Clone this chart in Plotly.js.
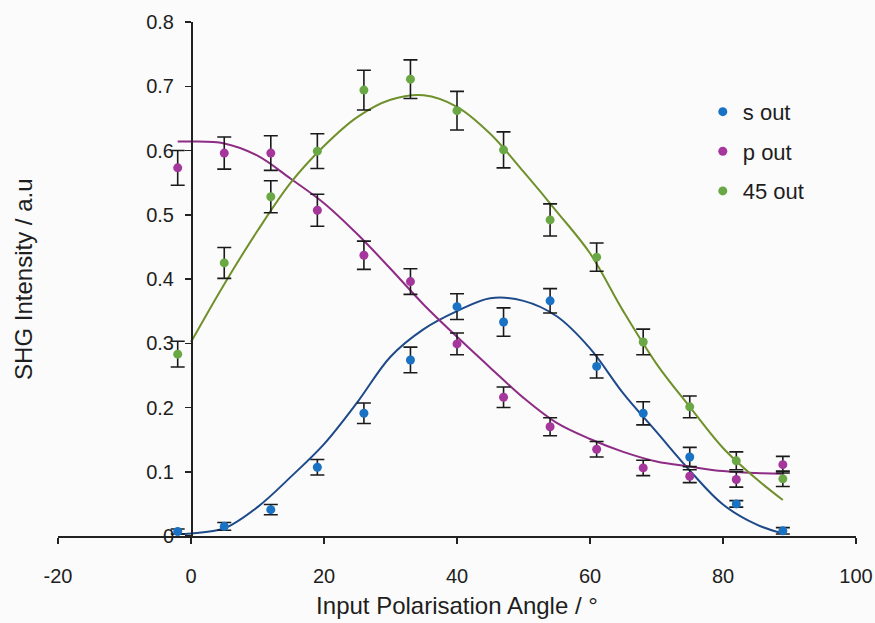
<!DOCTYPE html>
<html>
<head>
<meta charset="utf-8">
<script src="https://cdn.plot.ly/plotly-3.0.1.min.js"></script>
<style>html,body{margin:0;padding:0;background:#fbfbfb;}#chart{width:875px;height:623px;}</style>
</head>
<body>
<div id="chart"></div>
<script>
// Measured angles (degrees)
const angles = [-2, 5, 12, 19, 26, 33, 40, 47, 54, 61, 68, 75, 82, 89];

// Measured SHG intensities
const sOut  = [0.007, 0.015, 0.041, 0.107, 0.191, 0.274, 0.357, 0.333, 0.366, 0.264, 0.191, 0.123, 0.050, 0.008];
const pOut  = [0.573, 0.596, 0.596, 0.507, 0.437, 0.396, 0.299, 0.216, 0.170, 0.135, 0.106, 0.093, 0.088, 0.111];
const gOut  = [0.283, 0.425, 0.528, 0.599, 0.694, 0.711, 0.662, 0.601, 0.492, 0.434, 0.302, 0.201, 0.117, 0.089];

// Error bar half-heights
const sErr = [0.004, 0.006, 0.008, 0.012, 0.016, 0.020, 0.020, 0.022, 0.019, 0.018, 0.018, 0.015, 0.005, 0.005];
const pErr = [0.027, 0.025, 0.027, 0.025, 0.022, 0.020, 0.017, 0.016, 0.014, 0.012, 0.012, 0.010, 0.012, 0.013];
const gErr = [0.020, 0.024, 0.025, 0.027, 0.031, 0.030, 0.030, 0.028, 0.025, 0.022, 0.020, 0.017, 0.014, 0.012];

// Fitted curves
const fitAnglesS = [-2, 0, 5, 10, 15, 20, 25, 30, 35, 40, 45, 50, 55, 60, 65, 70, 75, 80, 85, 89];
const fitS       = [0.003, 0.004, 0.012, 0.045, 0.092, 0.143, 0.208, 0.279, 0.322, 0.350, 0.370, 0.366, 0.342, 0.292, 0.222, 0.162, 0.102, 0.049, 0.018, 0.004];
const fitAnglesP = [-2, 0, 5, 10, 15, 20, 25, 30, 35, 40, 45, 50, 55, 60, 65, 70, 75, 80, 85, 89];
const fitP       = [0.614, 0.614, 0.611, 0.592, 0.556, 0.518, 0.470, 0.416, 0.360, 0.310, 0.262, 0.215, 0.176, 0.151, 0.131, 0.116, 0.108, 0.101, 0.098, 0.097];
const fitAnglesG = [0, 5, 10, 15, 20, 25, 30, 35, 40, 45, 50, 55, 60, 65, 70, 75, 80, 85, 89];
const fitG       = [0.302, 0.392, 0.475, 0.550, 0.607, 0.652, 0.679, 0.686, 0.668, 0.626, 0.567, 0.505, 0.440, 0.350, 0.268, 0.201, 0.137, 0.089, 0.056];

const seriesNames = ['s out', 'p out', '45 out'];
const xTickVals = [-20, 0, 20, 40, 60, 80, 100];
const xTickText = ['-20', '0', '20', '40', '60', '80', '100'];
const yTickVals = [0, 0.1, 0.2, 0.3, 0.4, 0.5, 0.6, 0.7, 0.8];
const yTickText = ['0', '0.1', '0.2', '0.3', '0.4', '0.5', '0.6', '0.7', '0.8'];

const colS = '#1a72c4', colP = '#a5369c', colG = '#6aa845';
const lineS = '#1e4a8a', lineP = '#8e2b84', lineG = '#6f902a';

function fitTrace(x, y, c, g) {
  return {x: x, y: y, type: 'scatter', mode: 'lines', line: {color: c, width: 2, shape: 'spline', smoothing: 1},
          showlegend: false, legendgroup: g, hoverinfo: 'skip'};
}
function ptTrace(x, y, e, c, name, g) {
  return {x: x, y: y, type: 'scatter', mode: 'markers', name: name, legendgroup: g,
          marker: {color: c, size: 9},
          error_y: {type: 'data', array: e, visible: true, color: '#1a1a1a', thickness: 1.6, width: 7}};
}

const data = [
  fitTrace(fitAnglesS, fitS, lineS, 's'),
  fitTrace(fitAnglesP, fitP, lineP, 'p'),
  fitTrace(fitAnglesG, fitG, lineG, 'g'),
  ptTrace(angles, sOut, sErr, colS, seriesNames[0], 's'),
  ptTrace(angles, pOut, pErr, colP, seriesNames[1], 'p'),
  ptTrace(angles, gOut, gErr, colG, seriesNames[2], 'g')
];

const fam = '"Liberation Sans", Arial, sans-serif';
const txt = '#1e1e1e';

const layout = {
  width: 875, height: 623,
  margin: {l: 58, r: 19, t: 22, b: 87},
  paper_bgcolor: '#fbfbfb', plot_bgcolor: '#fbfbfb',
  font: {family: fam, size: 20, color: txt},
  showlegend: true,
  legend: {x: 0.808, y: 0.866, xanchor: 'left', yanchor: 'top', bgcolor: 'rgba(0,0,0,0)',
           font: {family: fam, size: 22, color: txt}, tracegroupgap: 8, itemwidth: 30},
  xaxis: {
    range: [-20, 100], tickvals: xTickVals, ticktext: xTickText, ticks: 'outside', ticklen: 6, tickwidth: 1.5, tickcolor: '#222',
    showline: true, linecolor: '#222', linewidth: 1.5, showgrid: false, zeroline: false,
    ticklabelstandoff: 15,
    tickfont: {family: fam, size: 20, color: txt},
    title: {text: 'Input Polarisation Angle / °', font: {family: fam, size: 24, color: txt}, standoff: 11}
  },
  yaxis: {
    range: [0, 0.8], tickvals: yTickVals, ticktext: yTickText, ticks: 'outside', ticklen: 6, tickwidth: 1.5, tickcolor: '#222',
    showline: true, linecolor: '#222', linewidth: 1.5, showgrid: false, zeroline: false,
    anchor: 'free', position: 20 / 120, ticklabelstandoff: 7,
    tickfont: {family: fam, size: 20, color: txt}
  },
  annotations: [{
    text: 'SHG Intensity / a.u', xref: 'paper', yref: 'paper', x: -0.044, y: 0.5,
    textangle: -90, showarrow: false, xanchor: 'center', yanchor: 'middle',
    font: {family: fam, size: 24, color: txt}
  }]
};

Plotly.newPlot('chart', data, layout, {displayModeBar: false, staticPlot: true});
</script>
</body>
</html>
